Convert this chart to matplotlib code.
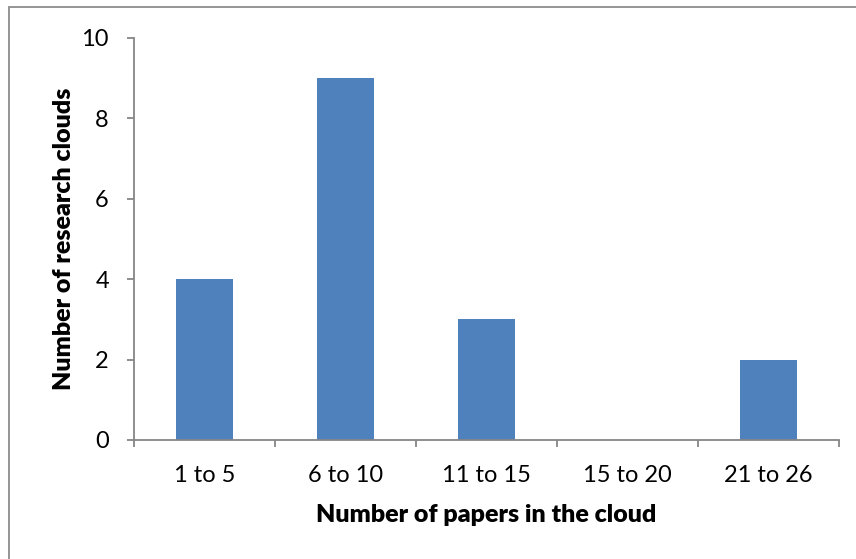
import matplotlib
matplotlib.use("Agg")
import matplotlib.pyplot as plt
from matplotlib.patches import Rectangle

# cloud size bins and how many research clouds fall in each
size_bins = ["1 to 5", "6 to 10", "11 to 15", "15 to 20", "21 to 26"]
cloud_counts = [4, 9, 3, 0, 2]
y_ticks = [0, 2, 4, 6, 8, 10]

plt.rcParams['font.family'] = ['Lato', 'DejaVu Sans']

bar_color = '#4F81BD'
axis_color = '#868686'

fig = plt.figure(figsize=(8.56, 5.59), dpi=100)
ax = fig.add_axes([134 / 856, 119 / 559, 705 / 856, 402.3 / 559])

positions = list(range(len(size_bins)))
ax.bar(positions, cloud_counts, width=0.4, color=bar_color, zorder=2)

# axes: only left and bottom, grey, ticks outside
for side in ['top', 'right']:
    ax.spines[side].set_visible(False)
for side in ['left', 'bottom']:
    ax.spines[side].set_color(axis_color)
    ax.spines[side].set_linewidth(1.3)

ax.set_ylim(0, 10)
ax.set_yticks(y_ticks)
ax.set_xlim(-0.5, len(size_bins) - 0.5)

# tick marks at category boundaries, labels at category centres
ax.set_xticks([p - 0.5 for p in positions] + [len(size_bins) - 0.5])
ax.set_xticklabels([])
ax.set_xticks(positions, minor=True)
ax.set_xticklabels(size_bins, minor=True)

ax.tick_params(axis='x', which='major', length=5, width=1.3, color=axis_color, direction='out')
ax.tick_params(axis='x', which='minor', length=0, pad=18, labelsize=17)
ax.tick_params(axis='y', length=5, width=1.3, color=axis_color, direction='out', pad=13, labelsize=17)

ax.set_xlabel("Number of papers in the cloud", fontsize=18, fontweight='heavy', labelpad=13)
ax.set_ylabel("Number of research clouds", fontsize=18, fontweight='heavy', labelpad=5)

# chart area border (only left and top edges fall inside the image)
fig.patches.append(Rectangle((9 / 856, -0.1), 1.2, 1.1 - 7 / 559,
                             transform=fig.transFigure, fill=False,
                             edgecolor='#8C8C8C', linewidth=1.3))

fig.savefig("out.png", dpi=100)
